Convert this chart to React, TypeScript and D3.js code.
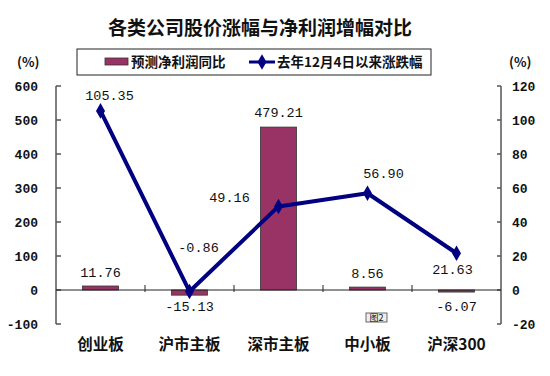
import React from "react";
import * as d3 from "d3";

const categories = ["创业板", "沪市主板", "深市主板", "中小板", "沪深300"];
const profitGrowth = [11.76, -15.13, 479.21, 8.56, -6.07];
const priceChange = [105.35, -0.86, 49.16, 56.9, 21.63];
const leftTicks = [-100, 0, 100, 200, 300, 400, 500, 600];
const rightTicks = [-20, 0, 20, 40, 60, 80, 100, 120];
const seriesNames = ["预测净利润同比", "去年12月4日以来涨跌幅"];
const title = "各类公司股价涨幅与净利润增幅对比";

// label placement (dx, dy relative to mark) — layout only
const barLabelPos = [
  { dx: 0, dy: -9 },
  { dx: 0, dy: 21 },
  { dx: 0, dy: -10 },
  { dx: 0, dy: -9 },
  { dx: 0, dy: 21 },
];
const lineLabelPos = [
  { dx: 9, dy: -11 },
  { dx: 9, dy: -39 },
  { dx: -49, dy: -4 },
  { dx: 16, dy: -15 },
  { dx: -4, dy: 21 },
];

const W = 550;
const H = 376;
const left = 56;
const right = 501;
const top = 86;
const bottom = 324;

const CJK = "'Noto Sans CJK SC', sans-serif";
const NUM = "'Liberation Mono', 'DejaVu Sans Mono', monospace";

export default function App() {
  const x = d3.scaleBand<string>().domain(categories).range([left, right]).padding(0);
  const yL = d3.scaleLinear().domain([-100, 600]).range([bottom, top]);
  const yR = d3.scaleLinear().domain([-20, 120]).range([bottom, top]);
  const barW = 36;
  const cx = (c: string) => (x(c) as number) + x.bandwidth() / 2;
  const line = d3
    .line<number>()
    .x((_, i) => cx(categories[i]))
    .y((d) => yR(d));
  const diamond = d3.symbol().type(d3.symbolDiamond).size(70)();
  const zeroY = yL(0);

  return (
    <svg width={W} height={H} style={{ position: "absolute", left: 0, top: 0, background: "#fff" }}>
      <rect x={0} y={0} width={W} height={H} fill="#fff" />
      <text x={260} y={35} textAnchor="middle" fontFamily={CJK} fontWeight="bold" fontSize={19} fill="#111">
        {title}
      </text>
      <text x={17} y={67} fontFamily={CJK} fontWeight="bold" fontSize={13} fill="#111">(%)</text>
      <text x={509} y={67} fontFamily={CJK} fontWeight="bold" fontSize={13} fill="#111">(%)</text>

      {/* legend */}
      <rect x={77} y={49} width={354} height={26} fill="#fff" stroke="#222" strokeWidth={1} />
      <rect x={105} y={58} width={23} height={7} fill="#993366" stroke="#333" strokeWidth={0.8} />
      <text x={131} y={67} fontFamily={CJK} fontWeight="bold" fontSize={13.5} fill="#111">{seriesNames[0]}</text>
      <line x1={249} x2={275} y1={62} y2={62} stroke="#000080" strokeWidth={3} />
      <path d={diamond as string} transform="translate(262,62)" fill="#000080" />
      <text x={277} y={67} fontFamily={CJK} fontWeight="bold" fontSize={13.5} fill="#111">{seriesNames[1]}</text>

      {/* left axis */}
      <line x1={left} x2={left} y1={top} y2={bottom} stroke="#555" strokeWidth={1.5} />
      {leftTicks.map((t) => (
        <g key={"l" + t}>
          <line x1={left} x2={left + 5} y1={yL(t)} y2={yL(t)} stroke="#555" strokeWidth={1.5} />
          <text x={38} y={yL(t) + 5} textAnchor="end" fontFamily={NUM} fontWeight="bold" fontSize={13} fill="#111">
            {t}
          </text>
        </g>
      ))}
      {/* right axis */}
      <line x1={right} x2={right} y1={top} y2={bottom} stroke="#555" strokeWidth={1.5} />
      {rightTicks.map((t) => (
        <g key={"r" + t}>
          <line x1={right - 4} x2={right} y1={yR(t)} y2={yR(t)} stroke="#555" strokeWidth={1.5} />
          <text x={512} y={yR(t) + 5} textAnchor="start" fontFamily={NUM} fontWeight="bold" fontSize={13} fill="#111">
            {t}
          </text>
        </g>
      ))}

      {/* bars */}
      {profitGrowth.map((v, i) => {
        const c = categories[i];
        const y0 = Math.min(yL(v), zeroY);
        const h = Math.abs(yL(v) - zeroY);
        return (
          <rect key={"b" + i} x={cx(c) - barW / 2} y={y0} width={barW} height={h} fill="#993366" stroke="#333" strokeWidth={0.8} />
        );
      })}

      {/* category axis */}
      <line x1={left} x2={right} y1={zeroY} y2={zeroY} stroke="#222" strokeWidth={1} />
      {categories.slice(1).map((c) => (
        <line key={"t" + c} x1={x(c) as number} x2={x(c) as number} y1={zeroY - 5} y2={zeroY + 2} stroke="#222" strokeWidth={1} />
      ))}
      {categories.map((c) => (
        <text key={"c" + c} x={cx(c)} y={350} textAnchor="middle" fontFamily={CJK} fontWeight="bold" fontSize={15.5} fill="#111">
          {c}
        </text>
      ))}

      {/* line series */}
      <path d={line(priceChange) as string} fill="none" stroke="#000080" strokeWidth={4} strokeLinejoin="round" />
      {priceChange.map((v, i) => (
        <path key={"m" + i} d={diamond as string} transform={`translate(${cx(categories[i])},${yR(v)})`} fill="#000080" />
      ))}

      {/* bar labels */}
      {profitGrowth.map((v, i) => {
        const c = categories[i];
        const base = v >= 0 ? yL(v) : zeroY + Math.abs(yL(v) - zeroY);
        return (
          <text key={"bl" + i} x={cx(c) + barLabelPos[i].dx} y={(v >= 0 ? yL(v) : zeroY) + barLabelPos[i].dy}
            textAnchor="middle" fontFamily={NUM} fontSize={13.5} fill="#111">
            {v.toFixed(2)}
          </text>
        );
      })}
      {/* line labels */}
      {priceChange.map((v, i) => (
        <text key={"ll" + i} x={cx(categories[i]) + lineLabelPos[i].dx} y={yR(v) + lineLabelPos[i].dy}
          textAnchor="middle" fontFamily={NUM} fontSize={13.5} fill="#111">
          {v.toFixed(2)}
        </text>
      ))}

      {/* figure mark */}
      <rect x={366} y={313} width={21} height={9} fill="#eee" stroke="#444" strokeWidth={0.8} />
      <text x={376.5} y={321} textAnchor="middle" fontFamily={CJK} fontSize={9} fill="#111">图2</text>
    </svg>
  );
}
